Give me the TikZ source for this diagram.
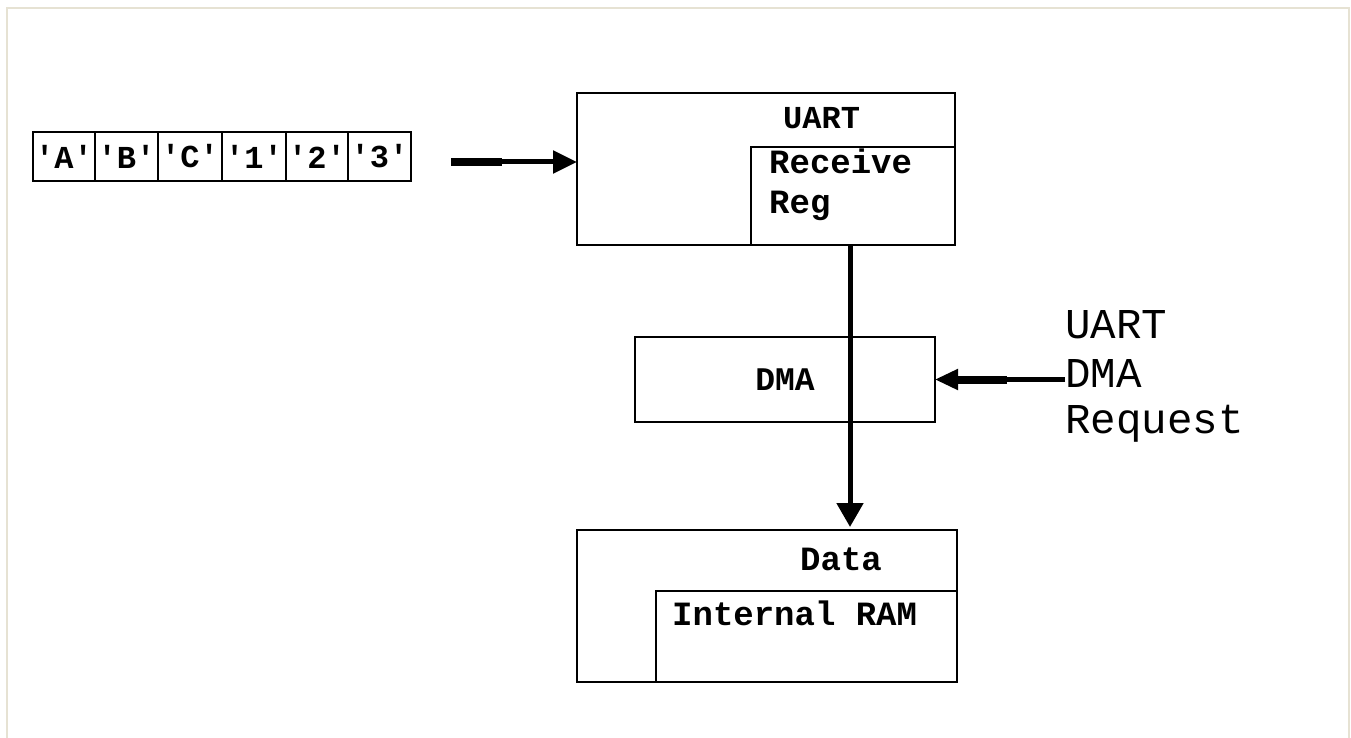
\documentclass[tikz,border=0pt]{standalone}
\usepackage{fontspec}
\setmonofont{Liberation Mono}
\usetikzlibrary{arrows.meta,calc}
\definecolor{frameclr}{HTML}{E6E2D3}
\tikzset{
  blk/.style={draw=black, line width=2.2pt, inner sep=0pt, outer sep=0pt},
  charbox/.style={blk, minimum height=49pt, font=\ttfamily\bfseries\fontsize{32}{36}\selectfont},
  btext/.style={inner sep=0pt, anchor=base west, font=\ttfamily\bfseries\fontsize{34}{40}\selectfont},
  rtext/.style={inner sep=0pt, anchor=base west, font=\ttfamily\fontsize{42.5}{47}\selectfont},
  conn/.style={line width=5pt},
  thickpart/.style={line width=8pt},
}
\begin{document}
\begin{tikzpicture}[x=1pt,y=-1pt]
\useasboundingbox (0,0) rectangle (1351,738);
\draw[frameclr, line width=2pt] (7,738) -- (7,8) -- (1349,8) -- (1349,738);

% character boxes
\node[charbox, minimum width=62pt] (c1) at (64,156.5) {'A'};
\node[charbox, minimum width=63pt] (c2) at (126.5,156.5) {'B'};
\node[charbox, minimum width=64pt] (c3) at (190,156.5) {'C'};
\node[charbox, minimum width=64pt] (c4) at (254,156.5) {'1'};
\node[charbox, minimum width=62pt] (c5) at (317,156.5) {'2'};
\node[charbox, minimum width=63pt] (c6) at (379.5,156.5) {'3'};

% UART block
\node[blk, minimum width=378pt, minimum height=152pt] (uart) at (766,169) {};
\node[blk, minimum width=204pt, minimum height=98pt] (rxreg) at (853,196) {};
\node[btext, font=\ttfamily\bfseries\fontsize{32}{36}\selectfont] (uartlbl) at (783,129) {UART};
\node[btext] (rxl1) at (769,174) {Receive};
\node[btext] (rxl2) at (769,213) {Reg};

% DMA block
\node[blk, minimum width=300pt, minimum height=85pt, font=\ttfamily\bfseries\fontsize{33}{38}\selectfont] (dma) at (785,379.5) {DMA};

% Data / Internal RAM block
\node[blk, minimum width=380pt, minimum height=152pt] (data) at (767,606) {};
\node[blk, minimum width=301pt, minimum height=91pt] (ram) at (806.5,636.5) {};
\node[btext] (datalbl) at (800,570) {Data};
\node[btext] (ramlbl) at (672,625) {Internal RAM};

% request label
\node[rtext] (rq1) at (1065,338) {UART};
\node[rtext] (rq2) at (1065,387) {DMA};
\node[rtext] (rq3) at (1065,433) {Request};

% input arrow
\coordinate (in1) at (451,162);
\draw[thickpart] (in1) -- ++(51,0);
\draw[conn, -{Triangle[length=24pt,width=22pt]}] (in1) -- (in1 -| uart.west);

% vertical data path
\coordinate (vx) at (850,0);
\draw[conn, -{Triangle[length=24pt,width=26pt]}] (uart.south -| vx) -- ($(data.north -| vx)+(0,-3)$);

% request arrow
\draw[thickpart] ($(dma.east)+(23,0)$) -- ++(49,0);
\draw[conn, -{Triangle[length=23pt,width=20pt]}] (dma.east -| rq2.west) -- (dma.east);
\end{tikzpicture}
\end{document}
